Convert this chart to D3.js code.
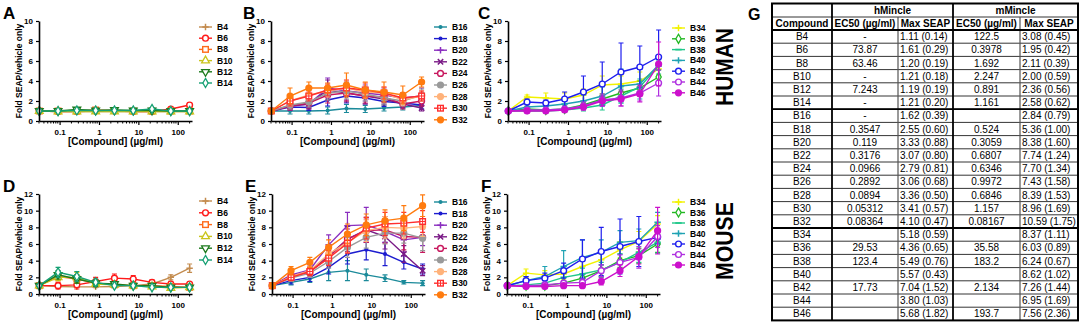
<!DOCTYPE html>
<html>
<head>
<meta charset="utf-8">
<script src="https://cdn.jsdelivr.net/npm/d3@7"></script>
<style>
  body { margin: 0; background: #fff; }
  svg { font-family: "Liberation Sans", Arial, sans-serif; }
</style>
</head>
<body>
<svg id="fig" width="1084" height="326"></svg>
<script>
// concentrations (µg/ml), 3-fold dilution from 200
var conc = [0.0305, 0.0914, 0.274, 0.823, 2.47, 7.41, 22.2, 66.7, 200];

var groupA = ["B4", "B6", "B8", "B10", "B12", "B14"];
var groupB = ["B16", "B18", "B20", "B22", "B24", "B26", "B28", "B30", "B32"];
var groupC = ["B34", "B36", "B38", "B40", "B42", "B44", "B46"];

var colorsA = ["#c38b4e", "#ff1a1a", "#ff6a1a", "#c9c41c", "#1d7a1d", "#16a073"];
var colorsB = ["#1b8a9a", "#1c1ccf", "#8a2ebf", "#7a1a86", "#c8185e", "#9a9a9a", "#ffb27a", "#ff2e2e", "#ff7b0f"];
var colorsC = ["#f2f200", "#22b822", "#20c88a", "#1fa2b3", "#1f1fee", "#b030e0", "#cc10cc"];

var symbolsA = ["plus", "circleOpen", "squareOpen", "triangleOpen", "triDownOpen", "diamondOpen"];
var symbolsB = ["dot", "dot", "plus", "cross", "circleOpen", "circle", "circle", "squareCross", "circle"];
var symbolsC = ["plus", "diamondOpen", "dash", "plus", "circleOpen", "circleOpen", "circle"];

// HUMAN (hMincle) means
var humanA = [
  [1, 0.95, 0.95, 0.95, 0.95, 0.95, 0.95, 0.95, 0.95],
  [1, 0.95, 0.95, 1.0, 1.0, 0.95, 0.95, 1.2, 1.6],
  [1, 1.0, 1.0, 1.1, 1.05, 1.0, 1.0, 1.0, 1.0],
  [1, 0.95, 0.95, 0.95, 0.95, 0.95, 0.95, 0.95, 0.95],
  [1, 1.0, 1.15, 1.05, 1.1, 1.05, 1.05, 1.0, 1.0],
  [1, 1.0, 1.05, 1.05, 1.05, 1.05, 1.2, 1.0, 1.0]
];
var humanASd = [
  [0, 0.05, 0.05, 0.05, 0.05, 0.05, 0.05, 0.05, 0.1],
  [0, 0.05, 0.1, 0.1, 0.1, 0.1, 0.1, 0.2, 0.25],
  [0, 0.05, 0.1, 0.15, 0.1, 0.1, 0.1, 0.1, 0.1],
  [0, 0.05, 0.05, 0.05, 0.05, 0.05, 0.05, 0.05, 0.05],
  [0, 0.1, 0.15, 0.1, 0.1, 0.1, 0.1, 0.1, 0.1],
  [0, 0.05, 0.1, 0.1, 0.1, 0.1, 0.15, 0.1, 0.1]
];
var humanB = [
  [1, 1.0, 1.0, 1.05, 1.25, 1.2, 1.3, 1.4, 1.55],
  [1, 1.4, 1.35, 2.1, 2.5, 2.3, 1.95, 1.8, 1.6],
  [1, 1.5, 1.7, 3.3, 3.0, 2.8, 2.6, 2.3, 2.5],
  [1, 1.5, 1.7, 3.1, 2.8, 2.5, 2.2, 1.7, 1.3],
  [1, 1.5, 1.8, 2.6, 2.8, 2.5, 2.4, 1.7, 2.0],
  [1, 1.6, 1.9, 2.8, 3.0, 2.7, 2.3, 2.0, 2.6],
  [1, 2.0, 2.6, 3.0, 3.3, 2.9, 2.8, 2.1, 2.5],
  [1, 2.0, 2.5, 3.1, 3.3, 3.1, 2.8, 2.3, 2.5],
  [1, 2.5, 3.3, 3.3, 3.6, 3.1, 2.9, 2.6, 3.9]
];
var humanBSd = [
  [0, 0.3, 0.3, 0.35, 0.4, 0.35, 0.3, 0.3, 0.35],
  [0, 0.3, 0.3, 0.6, 0.7, 0.6, 0.5, 0.5, 0.4],
  [0, 0.4, 0.5, 1.0, 0.9, 0.8, 0.7, 0.5, 0.8],
  [0, 0.4, 0.5, 1.0, 0.9, 0.8, 0.6, 0.4, 0.3],
  [0, 0.4, 0.5, 0.8, 0.8, 0.7, 0.6, 0.5, 0.5],
  [0, 0.4, 0.5, 0.7, 0.8, 0.7, 0.6, 0.5, 0.6],
  [0, 0.5, 0.5, 0.6, 0.7, 0.6, 0.6, 0.5, 0.5],
  [0, 0.5, 0.5, 0.6, 0.8, 0.7, 0.6, 0.5, 0.5],
  [0, 0.8, 0.6, 0.5, 1.2, 0.8, 1.0, 0.9, 0.5]
];
var humanC = [
  [1, 2.4, 2.3, 2.2, 2.6, 3.6, 3.7, 4.0, 5.2],
  [1, 1.2, 1.1, 1.2, 1.6, 2.2, 2.8, 3.3, 4.4],
  [1, 1.0, 1.0, 1.1, 1.3, 1.6, 2.5, 3.4, 5.5],
  [1, 1.4, 1.5, 1.7, 2.0, 2.5, 3.5, 3.7, 5.6],
  [1, 1.9, 1.8, 2.2, 2.9, 3.7, 4.9, 5.4, 6.4],
  [1, 1.1, 1.1, 1.2, 1.5, 2.1, 2.3, 2.8, 3.8],
  [1, 1.0, 1.0, 1.1, 1.4, 2.0, 2.2, 2.7, 5.7]
];
var humanCSd = [
  [0, 0.2, 0.5, 0.6, 0.6, 0.9, 0.8, 0.9, 0.6],
  [0, 0.2, 0.2, 0.2, 0.3, 0.5, 0.6, 0.7, 0.7],
  [0, 0.1, 0.1, 0.2, 0.3, 0.5, 0.7, 0.8, 0.8],
  [0, 0.3, 0.3, 0.4, 0.6, 0.9, 1.7, 1.5, 0.5],
  [0, 0.3, 0.3, 0.7, 1.6, 2.2, 2.9, 2.1, 2.7],
  [0, 0.2, 0.2, 0.2, 0.4, 0.6, 0.8, 0.8, 1.3],
  [0, 0.1, 0.1, 0.2, 0.3, 0.5, 0.7, 0.8, 2.2]
];

// MOUSE (mMincle) means
var mouseA = [
  [1, 0.9, 0.85, 0.85, 0.9, 1.0, 1.2, 2.0, 3.1],
  [1, 1.0, 1.1, 1.5, 1.9, 1.8, 1.4, 1.2, 1.2],
  [1, 2.1, 1.8, 1.3, 1.1, 1.0, 1.0, 0.9, 0.8],
  [1, 2.0, 2.0, 1.2, 1.1, 1.0, 0.9, 0.7, 0.8],
  [1, 2.3, 1.8, 1.3, 1.2, 1.0, 1.0, 0.8, 0.8],
  [1, 2.6, 2.1, 1.4, 1.0, 1.0, 0.8, 0.8, 0.8]
];
var mouseASd = [
  [0, 0.1, 0.1, 0.1, 0.1, 0.1, 0.2, 0.3, 0.5],
  [0, 0.4, 0.5, 0.5, 0.5, 0.4, 0.3, 0.3, 0.2],
  [0, 0.5, 0.5, 0.3, 0.2, 0.2, 0.2, 0.1, 0.1],
  [0, 0.4, 0.6, 0.3, 0.2, 0.2, 0.1, 0.1, 0.1],
  [0, 0.5, 0.5, 0.4, 0.2, 0.2, 0.1, 0.1, 0.1],
  [0, 0.6, 0.6, 0.4, 0.2, 0.2, 0.1, 0.1, 0.1]
];
var mouseB = [
  [1, 1.4, 1.8, 2.6, 2.8, 2.3, 1.9, 1.4, 1.3],
  [1, 1.6, 2.0, 3.2, 4.8, 5.3, 4.8, 3.8, 3.0],
  [1, 2.3, 2.9, 5.9, 8.2, 8.3, 7.5, 6.5, 6.8],
  [1, 2.1, 2.7, 4.6, 6.6, 7.7, 6.9, 4.8, 2.8],
  [1, 2.1, 2.7, 4.4, 6.6, 7.6, 7.7, 6.9, 6.8],
  [1, 1.9, 2.5, 3.9, 5.6, 6.8, 7.3, 7.3, 6.7],
  [1, 2.1, 2.8, 4.8, 6.2, 7.6, 8.0, 7.9, 8.1],
  [1, 2.0, 2.7, 4.3, 6.1, 7.9, 8.4, 8.5, 8.7],
  [1, 2.8, 3.8, 5.6, 7.2, 8.3, 8.8, 9.1, 10.6]
];
var mouseBSd = [
  [0, 0.3, 0.4, 1.0, 1.2, 0.7, 0.4, 0.2, 0.3],
  [0, 0.4, 0.5, 0.8, 1.2, 1.2, 1.4, 0.8, 0.6],
  [0, 0.4, 0.6, 1.2, 1.6, 2.1, 1.3, 1.5, 1.0],
  [0, 0.4, 0.5, 1.0, 1.5, 1.5, 1.5, 1.0, 0.6],
  [0, 0.4, 0.5, 0.9, 1.2, 1.4, 1.6, 1.6, 1.8],
  [0, 0.4, 0.5, 0.8, 1.2, 1.3, 1.3, 1.2, 1.5],
  [0, 0.4, 0.5, 0.9, 1.2, 1.3, 1.3, 1.2, 1.2],
  [0, 0.4, 0.5, 0.9, 1.2, 1.3, 1.4, 1.3, 1.3],
  [0, 0.5, 0.6, 0.9, 1.2, 1.3, 1.3, 1.5, 1.3]
];
var mouseC = [
  [1, 2.5, 2.3, 2.4, 3.3, 4.1, 5.3, 6.3, 8.4],
  [1, 1.0, 1.0, 1.3, 1.9, 2.8, 4.0, 4.6, 6.0],
  [1, 1.1, 1.3, 2.0, 2.4, 2.9, 3.8, 5.0, 6.2],
  [1, 1.6, 2.1, 3.3, 4.4, 5.0, 6.2, 6.4, 8.6],
  [1, 1.6, 1.9, 2.8, 4.2, 5.1, 5.7, 6.3, 6.8],
  [1, 1.0, 1.1, 1.3, 1.4, 2.8, 3.8, 4.4, 6.9],
  [1, 0.9, 0.9, 1.0, 1.0, 1.5, 2.8, 4.5, 7.6]
];
var mouseCSd = [
  [0, 0.5, 0.5, 0.7, 0.9, 1.0, 1.0, 1.2, 1.0],
  [0, 0.2, 0.2, 0.3, 0.5, 0.7, 0.8, 0.9, 1.0],
  [0, 0.2, 0.3, 0.5, 0.7, 0.9, 1.0, 1.2, 1.3],
  [0, 0.5, 1.2, 1.9, 2.1, 1.5, 1.4, 1.4, 1.2],
  [0, 0.5, 0.6, 0.9, 2.3, 2.9, 3.3, 3.0, 0.8],
  [0, 0.2, 0.2, 0.3, 0.4, 0.7, 0.9, 1.3, 1.3],
  [0, 0.1, 0.2, 0.2, 0.2, 0.4, 0.7, 0.9, 2.8]
];

// table G
var tblCompounds = ["B4", "B6", "B8", "B10", "B12", "B14", "B16", "B18", "B20", "B22", "B24", "B26", "B28", "B30", "B32", "B34", "B36", "B38", "B40", "B42", "B44", "B46"];
var tblHEc50 = ["-", "73.87", "63.46", "-", "7.243", "-", "-", "0.3547", "0.119", "0.3176", "0.0966", "0.2892", "0.0894", "0.05312", "0.08364", "", "29.53", "123.4", "", "17.73", "", ""];
var tblHMax = ["1.11 (0.14)", "1.61 (0.29)", "1.20 (0.19)", "1.21 (0.18)", "1.19 (0.19)", "1.21 (0.20)", "1.62 (0.39)", "2.55 (0.60)", "3.33 (0.88)", "3.07 (0.80)", "2.79 (0.81)", "3.06 (0.68)", "3.36 (0.50)", "3.41 (0.57)", "4.10 (0.47)", "5.18 (0.59)", "4.36 (0.65)", "5.49 (0.76)", "5.57 (0.43)", "7.04 (1.52)", "3.80 (1.03)", "5.68 (1.82)"];
var tblMEc50 = ["122.5", "0.3978", "1.692", "2.247", "0.891", "1.161", "", "0.524", "0.3059", "0.6807", "0.6346", "0.9972", "0.6846", "1.157", "0.08167", "", "35.58", "183.2", "", "2.134", "", "193.7"];
var tblMMax = ["3.08 (0.45)", "1.95 (0.42)", "2.11 (0.39)", "2.00 (0.59)", "2.36 (0.56)", "2.58 (0.62)", "2.84 (0.79)", "5.36 (1.00)", "8.38 (1.60)", "7.74 (1.24)", "7.70 (1.34)", "7.43 (1.58)", "8.39 (1.53)", "8.96 (1.69)", "10.59 (1.75)", "8.37 (1.11)", "6.03 (0.89)", "6.24 (0.67)", "8.62 (1.02)", "7.26 (1.44)", "6.95 (1.69)", "7.56 (2.36)"];

var svg = d3.select("#fig");

var panels = [
  {letter: "A", lx: 3,   left: 39,  top: 21,  bottom: 121, ymax: 10, names: groupA, colors: colorsA, syms: symbolsA, means: humanA, sds: humanASd, legX: 199, legY: 27, legStep: 11.2},
  {letter: "B", lx: 243, left: 271, top: 21,  bottom: 121, ymax: 10, names: groupB, colors: colorsB, syms: symbolsB, means: humanB, sds: humanBSd, legX: 434, legY: 27, legStep: 11.6},
  {letter: "C", lx: 478, left: 508, top: 21,  bottom: 121, ymax: 10, names: groupC, colors: colorsC, syms: symbolsC, means: humanC, sds: humanCSd, legX: 672, legY: 28, legStep: 10.8},
  {letter: "D", lx: 3,   left: 39,  top: 194, bottom: 294, ymax: 12, names: groupA, colors: colorsA, syms: symbolsA, means: mouseA, sds: mouseASd, legX: 199, legY: 201, legStep: 11.8},
  {letter: "E", lx: 245, left: 272, top: 194, bottom: 294, ymax: 12, names: groupB, colors: colorsB, syms: symbolsB, means: mouseB, sds: mouseBSd, legX: 434, legY: 202, legStep: 11.6},
  {letter: "F", lx: 481, left: 507, top: 194, bottom: 294, ymax: 12, names: groupC, colors: colorsC, syms: symbolsC, means: mouseC, sds: mouseCSd, legX: 672, legY: 202, legStep: 10.5}
];

function drawMarker(g, type, color, cx, cy) {
  var s = g.append("g").attr("transform", "translate(" + cx + "," + cy + ")");
  var open = type.indexOf("Open") >= 0;
  var fill = open ? "#fff" : color;
  if (type === "circle" || type === "circleOpen") {
    s.append("circle").attr("r", 2.9).attr("fill", fill).attr("stroke", color).attr("stroke-width", 1.4);
  } else if (type === "dot") {
    s.append("circle").attr("r", 2).attr("fill", color);
  } else if (type === "squareOpen") {
    s.append("rect").attr("x", -2.8).attr("y", -2.8).attr("width", 5.6).attr("height", 5.6).attr("fill", fill).attr("stroke", color).attr("stroke-width", 1.4);
  } else if (type === "squareCross") {
    s.append("rect").attr("x", -2.8).attr("y", -2.8).attr("width", 5.6).attr("height", 5.6).attr("fill", "#fff").attr("stroke", color).attr("stroke-width", 1.4);
    s.append("path").attr("d", "M-2.8,0H2.8M0,-2.8V2.8").attr("stroke", color).attr("stroke-width", 1);
  } else if (type === "triangleOpen") {
    s.append("path").attr("d", d3.symbol(d3.symbolTriangle, 26)()).attr("fill", fill).attr("stroke", color).attr("stroke-width", 1.3);
  } else if (type === "triDownOpen") {
    s.append("path").attr("d", d3.symbol(d3.symbolTriangle, 26)()).attr("transform", "rotate(180)").attr("fill", fill).attr("stroke", color).attr("stroke-width", 1.3);
  } else if (type === "diamondOpen") {
    s.append("path").attr("d", d3.symbol(d3.symbolDiamond, 24)()).attr("fill", fill).attr("stroke", color).attr("stroke-width", 1.3);
  } else if (type === "plus") {
    s.append("path").attr("d", "M-3.2,0H3.2M0,-3.2V3.2").attr("stroke", color).attr("stroke-width", 1.5);
  } else if (type === "cross") {
    s.append("path").attr("d", "M-2.7,-2.7L2.7,2.7M-2.7,2.7L2.7,-2.7").attr("stroke", color).attr("stroke-width", 1.5);
  } else if (type === "dash") {
    s.append("path").attr("d", "M-3.2,0H3.2").attr("stroke", color).attr("stroke-width", 1.7);
  }
}

panels.forEach(function(p) {
  var width = 153;
  var x = d3.scaleLog().domain([0.03, 230]).range([p.left, p.left + width]);
  var y = d3.scaleLinear().domain([0, p.ymax]).range([p.bottom, p.top]);

  // panel letter
  svg.append("text").attr("x", p.lx).attr("y", p.top - 2)
    .attr("font-size", 17).attr("font-weight", "bold").text(p.letter);

  // series: error bars, lines, markers
  var g = svg.append("g");
  p.names.forEach(function(name, si) {
    var color = p.colors[si];
    var pts = conc.map(function(c, i) { return {c: c, m: p.means[si][i], sd: p.sds[si][i]}; });

    pts.forEach(function(d) {
      if (d.sd <= 0) return;
      var xx = x(d.c);
      g.append("path")
        .attr("d", "M" + xx + "," + y(d.m - d.sd) + "V" + y(d.m + d.sd) +
          "M" + (xx - 2.5) + "," + y(d.m + d.sd) + "H" + (xx + 2.5) +
          "M" + (xx - 2.5) + "," + y(d.m - d.sd) + "H" + (xx + 2.5))
        .attr("stroke", color).attr("stroke-width", 1.2).attr("fill", "none");
    });

    g.append("path").datum(pts)
      .attr("d", d3.line().x(function(d) { return x(d.c); }).y(function(d) { return y(d.m); }))
      .attr("fill", "none").attr("stroke", color).attr("stroke-width", 1.4);

    pts.forEach(function(d) { drawMarker(g, p.syms[si], color, x(d.c), y(d.m)); });

    // legend entry
    var ly = p.legY + si * p.legStep;
    svg.append("line").attr("x1", p.legX).attr("x2", p.legX + 13).attr("y1", ly).attr("y2", ly)
      .attr("stroke", color).attr("stroke-width", 1.4);
    drawMarker(svg, p.syms[si], color, p.legX + 6.5, ly);
    svg.append("text").attr("x", p.legX + 18).attr("y", ly + 3)
      .attr("font-size", 8.5).attr("font-weight", "bold").text(name);
  });

  // y axis
  var yAxis = d3.axisLeft(y).tickValues(d3.range(0, p.ymax + 1, 2)).tickSize(3).tickSizeOuter(0);
  var ya = svg.append("g").attr("transform", "translate(" + p.left + ",0)").call(yAxis);
  ya.select(".domain").attr("stroke-width", 1.6);
  ya.selectAll("text").attr("font-size", 8).attr("font-weight", "bold").attr("font-family", null).attr("fill", "#000");
  ya.selectAll(".tick line").attr("stroke-width", 1.2);

  // x axis (log) with minor ticks
  var xAxis = d3.axisBottom(x).tickValues([0.1, 1, 10, 100]).tickFormat(d3.format("~g")).tickSize(4).tickSizeOuter(0);
  var xa = svg.append("g").attr("transform", "translate(0," + p.bottom + ")").call(xAxis);
  xa.select(".domain").attr("stroke-width", 1.6);
  xa.selectAll("text").attr("font-size", 8).attr("font-weight", "bold").attr("font-family", null).attr("fill", "#000").attr("dy", "0.9em");
  xa.selectAll(".tick line").attr("stroke-width", 1.2);
  var minor = [];
  [0.01, 0.1, 1, 10, 100].forEach(function(dec) {
    for (var k = 2; k <= 9; k++) {
      var v = k * dec;
      if (v >= 0.03 && v <= 230) minor.push(v);
    }
  });
  xa.selectAll(".minor").data(minor).enter().append("line").attr("class", "minor")
    .attr("x1", function(d) { return x(d); }).attr("x2", function(d) { return x(d); })
    .attr("y1", 0).attr("y2", 2.5).attr("stroke", "#000").attr("stroke-width", 1);

  // axis titles
  svg.append("text").attr("x", p.left + width / 2).attr("y", p.bottom + 24)
    .attr("text-anchor", "middle").attr("font-size", 10).attr("font-weight", "bold")
    .text("[Compound] (\u00b5g/ml)");
  svg.append("text")
    .attr("transform", "translate(" + (p.left - 17) + "," + ((p.top + p.bottom) / 2) + ") rotate(-90)")
    .attr("text-anchor", "middle").attr("font-size", 8.5).attr("font-weight", "bold")
    .text("Fold SEAP/vehicle only");
});

// species labels
[["HUMAN", 67], ["MOUSE", 241]].forEach(function(d) {
  svg.append("text")
    .attr("transform", "translate(733," + d[1] + ") rotate(-90)")
    .attr("text-anchor", "middle").attr("font-size", 24).attr("font-weight", "bold")
    .attr("textLength", 78).attr("lengthAdjust", "spacingAndGlyphs")
    .text(d[0]);
});

// table G
svg.append("text").attr("x", 748).attr("y", 20).attr("font-size", 16).attr("font-weight", "bold").text("G");

var colX = [772, 832, 898, 953, 1020, 1078];
var rowTop = 3.5, head1 = 17, head2 = 30, rowH = 13.2;
var tg = svg.append("g");
var rows = tblCompounds.map(function(c, i) {
  return {c: c, hE: tblHEc50[i], hM: tblHMax[i], mE: tblMEc50[i], mM: tblMMax[i], y: head2 + i * rowH};
});
var tBottom = head2 + rows.length * rowH;

rows.forEach(function(r) {
  var cy = r.y + rowH / 2 + 3.5;
  tg.append("text").attr("x", (colX[0] + colX[1]) / 2).attr("y", cy).attr("text-anchor", "middle").attr("font-size", 10).text(r.c);
  tg.append("text").attr("x", (colX[1] + colX[2]) / 2).attr("y", cy).attr("text-anchor", "middle").attr("font-size", 10).text(r.hE);
  tg.append("text").attr("x", colX[2] + 2).attr("y", cy).attr("font-size", 10).text(r.hM);
  tg.append("text").attr("x", (colX[3] + colX[4]) / 2).attr("y", cy).attr("text-anchor", "middle").attr("font-size", 10).text(r.mE);
  tg.append("text").attr("x", colX[4] + 2).attr("y", cy).attr("font-size", 10).text(r.mM);
  tg.append("line").attr("x1", colX[0]).attr("x2", colX[5]).attr("y1", r.y).attr("y2", r.y)
    .attr("stroke", "#000").attr("stroke-width", 0.8);
});

// headers
tg.append("text").attr("x", (colX[1] + colX[3]) / 2).attr("y", (rowTop + head1) / 2 + 3.5).attr("text-anchor", "middle").attr("font-size", 10).attr("font-weight", "bold").text("hMincle");
tg.append("text").attr("x", (colX[3] + colX[5]) / 2).attr("y", (rowTop + head1) / 2 + 3.5).attr("text-anchor", "middle").attr("font-size", 10).attr("font-weight", "bold").text("mMincle");
var h2 = ["Compound", "EC50 (\u00b5g/ml)", "Max SEAP", "EC50 (\u00b5g/ml)", "Max SEAP"];
h2.forEach(function(t, i) {
  tg.append("text").attr("x", (colX[i] + colX[i + 1]) / 2).attr("y", (head1 + head2) / 2 + 3.5)
    .attr("text-anchor", "middle").attr("font-size", 10).attr("font-weight", "bold").text(t);
});

// grid lines
tg.append("line").attr("x1", colX[0]).attr("x2", colX[5]).attr("y1", head1).attr("y2", head1).attr("stroke", "#000").attr("stroke-width", 0.8);
[2, 4].forEach(function(i) {
  tg.append("line").attr("x1", colX[i]).attr("x2", colX[i]).attr("y1", head1).attr("y2", tBottom).attr("stroke", "#555").attr("stroke-width", 1.2);
});
[1, 3].forEach(function(i) {
  tg.append("line").attr("x1", colX[i]).attr("x2", colX[i]).attr("y1", rowTop).attr("y2", tBottom).attr("stroke", "#000").attr("stroke-width", 1.8);
});
[head2, head2 + 6 * rowH, head2 + 15 * rowH].forEach(function(yy) {
  tg.append("line").attr("x1", colX[0]).attr("x2", colX[5]).attr("y1", yy).attr("y2", yy).attr("stroke", "#000").attr("stroke-width", 1.8);
});
tg.append("rect").attr("x", colX[0]).attr("y", rowTop).attr("width", colX[5] - colX[0]).attr("height", tBottom - rowTop)
  .attr("fill", "none").attr("stroke", "#000").attr("stroke-width", 2);
</script>
</body>
</html>
